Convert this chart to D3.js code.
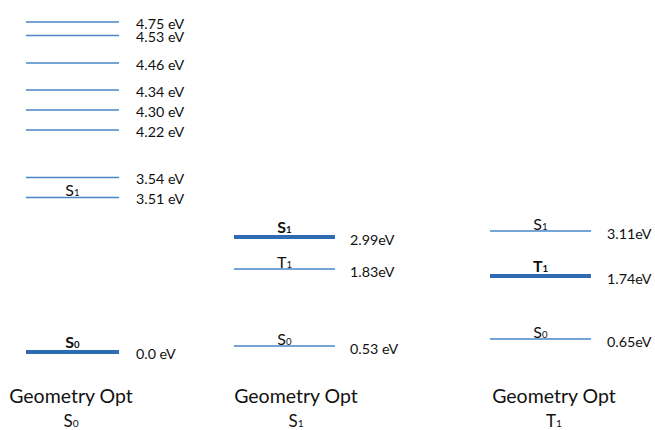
<!DOCTYPE html>
<html>
<head>
<meta charset="utf-8">
<script src="https://cdn.jsdelivr.net/npm/d3@7"></script>
<style>
  html, body { margin: 0; padding: 0; background: #fff; }
  svg { display: block; font-family: Lato, "Open Sans", "Liberation Sans", sans-serif; }
</style>
</head>
<body>
<svg id="chart" width="655" height="430"></svg>
<script>
// Optimised geometry of each column (the state whose level is drawn bold)
const geometries = ["S0", "S1", "T1"];

// Energy levels: column index, energy (eV), printed value, state name
const levelGeom   = [0, 0, 0, 0, 0, 0, 0, 0, 0, 1, 1, 1, 2, 2, 2];
const levelEnergy = [4.75, 4.53, 4.46, 4.34, 4.30, 4.22, 3.54, 3.51, 0.0, 2.99, 1.83, 0.53, 3.11, 1.74, 0.65];
const levelText   = ["4.75 eV", "4.53 eV", "4.46 eV", "4.34 eV", "4.30 eV", "4.22 eV", "3.54 eV", "3.51 eV", "0.0 eV",
                     "2.99eV", "1.83eV", "0.53 eV", "3.11eV", "1.74eV", "0.65eV"];
const levelState  = [null, null, null, null, null, null, null, "S1", "S0", "S1", "T1", "S0", "S1", "T1", "S0"];

const levels = levelEnergy.map((e, i) => ({
  geom: geometries[levelGeom[i]],
  energy: e,
  text: levelText[i],
  state: levelState[i]
}));

const svg = d3.select("#chart");

// Schematic (not-to-scale) energy axis: each energy gets its own slot, in order
const knots = Array.from(new Set(levelEnergy)).sort(d3.ascending);
const slots = [352, 346, 339, 276, 269, 237, 231, 197.5, 177.5, 130, 110, 90, 63, 35.5, 22];
const y = d3.scaleLinear().domain(knots).range(slots);

// Column placement
const xStart = d3.scaleOrdinal().domain(geometries).range([26, 234, 490]);
const xWidth = d3.scaleOrdinal().domain(geometries).range([93, 101, 101]);
const xValue = d3.scaleOrdinal().domain(geometries).range([136, 350, 607]);
const xTitle = d3.scaleOrdinal().domain(geometries).range([71, 296, 554]);

const thinColor = "#4a86c8";
const boldColor = "#2e6bb3";
const textColor = "#111";

const isOpt = d => d.state === d.geom;

// Level lines
svg.append("g").selectAll("line").data(levels).join("line")
  .attr("x1", d => xStart(d.geom))
  .attr("x2", d => xStart(d.geom) + xWidth(d.geom))
  .attr("y1", d => y(d.energy))
  .attr("y2", d => y(d.energy))
  .attr("stroke", d => isOpt(d) ? boldColor : thinColor)
  .attr("stroke-width", d => isOpt(d) ? 4 : 1.3);

// Energy values
svg.append("g").selectAll("text").data(levels).join("text")
  .attr("x", d => xValue(d.geom))
  .attr("y", d => y(d.energy) + (d.geom === "S0" ? 1 : 2))
  .attr("dominant-baseline", "central")
  .attr("font-size", 14.3)
  .attr("fill", textColor)
  .text(d => d.text);

// State labels with subscript digit
function stateLabel(sel, name, size, bold) {
  sel.append("tspan").attr("font-size", size).attr("font-weight", bold ? "bold" : "normal").text(name[0]);
  sel.append("tspan").attr("font-size", size * 0.6).attr("font-weight", bold ? "bold" : "normal").text(name.slice(1));
}

svg.append("g").selectAll("text").data(levels.filter(d => d.state)).join("text")
  .attr("x", d => xStart(d.geom) + xWidth(d.geom) / 2)
  .attr("y", d => y(d.energy) - (isOpt(d) ? 4 : 1.5))
  .attr("text-anchor", "middle")
  .attr("fill", textColor)
  .each(function(d) { stateLabel(d3.select(this), d.state, 16, isOpt(d)); });

// Column titles
const titles = svg.append("g").selectAll("g").data(geometries).join("g");
titles.append("text")
  .attr("x", d => xTitle(d))
  .attr("y", 403)
  .attr("text-anchor", "middle")
  .attr("font-size", 19.5)
  .attr("fill", textColor)
  .text("Geometry Opt");
titles.append("text")
  .attr("x", d => xTitle(d))
  .attr("y", 427)
  .attr("text-anchor", "middle")
  .attr("fill", textColor)
  .each(function(d) { stateLabel(d3.select(this), d, 17, false); });
</script>
</body>
</html>
